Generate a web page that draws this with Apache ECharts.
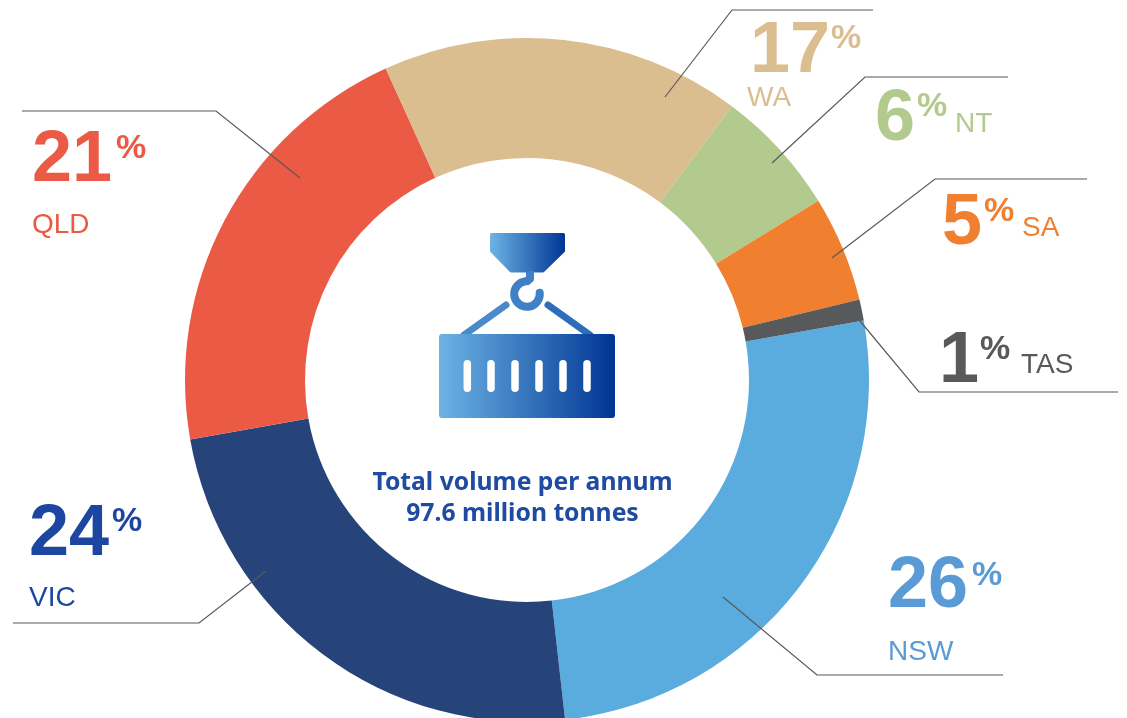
<!DOCTYPE html>
<html>
<head>
<meta charset="utf-8">
<title>Total volume per annum by state</title>
<script src="https://cdn.jsdelivr.net/npm/echarts@6/dist/echarts.min.js"></script>
<style>
  html, body { margin: 0; padding: 0; background: #fff; }
  #chart { width: 1127px; height: 718px; }
</style>
</head>
<body>
<div id="chart"></div>
<script>
// State shares of annual volume, clockwise from the TAS/NSW boundary
const regions = ['NSW', 'VIC', 'QLD', 'WA', 'NT', 'SA', 'TAS'];
const shares = [26, 24, 21, 17, 6, 5, 1];
const sliceColors = ['#5AACDF', '#27447A', '#EA5A44', '#DBBE90', '#B2CA8E', '#F08030', '#58595B'];
const labelColors = ['#5B9BD5', '#1D46A0', '#EA5A44', '#DBBE90', '#B2CA8E', '#F08030', '#58595B'];
const centerLines = ['Total volume per annum', '97.6 million tonnes'];

// Callout placement per state: digits, percent sign, name and leader line
const callouts = {
  NSW: { num: [888, 587], pct: [972, 576], name: [888, 652], line: [[723, 597], [817, 675], [1003, 675]] },
  VIC: { num: [29, 535], pct: [112, 522], name: [29, 598], line: [[266, 571], [199, 623], [13, 623]] },
  QLD: { num: [32, 161], pct: [116, 149], name: [32, 225], line: [[300, 178], [216, 111], [22, 111]] },
  WA: { num: [750, 52], pct: [831, 39], name: [747, 98], line: [[665, 97], [732, 10], [873, 10]] },
  NT: { num: [875, 120], pct: [917, 107], name: [955, 124], line: [[772, 163], [865, 77], [1008, 77]] },
  SA: { num: [942, 224], pct: [984, 212], name: [1022, 228], line: [[832, 258], [935, 179], [1087, 179]] },
  TAS: { num: [939, 362], pct: [980, 350], name: [1021, 365], line: [[860, 321], [919, 392], [1118, 392]] }
};

const FONT = '"Liberation Sans", Arial, sans-serif';
const graphics = [];

function addText(text, pos, font, fill, align) {
  graphics.push({
    type: 'text', x: pos[0], y: pos[1], silent: true, z: 10,
    style: { text, font, fill, align: align || 'left', verticalAlign: 'middle' }
  });
}

regions.forEach((region, i) => {
  const c = callouts[region];
  graphics.push({
    type: 'polyline', silent: true, z: 10,
    shape: { points: c.line },
    style: { stroke: '#58595B', lineWidth: 1.2, fill: null }
  });
  addText(String(shares[i]), c.num, 'bold 72px ' + FONT, labelColors[i]);
  addText('%', c.pct, 'bold 34px ' + FONT, labelColors[i]);
  addText(region, c.name, '28px ' + FONT, labelColors[i]);
});

// Crane hook and container pictogram in the middle of the ring
const iconStops = [{ offset: 0, color: '#6DB4E5' }, { offset: 1, color: '#003594' }];
const localFill = { type: 'linear', x: 0, y: 0, x2: 1, y2: 0, colorStops: iconStops };

graphics.push(
  { type: 'line', silent: true, z: 10, shape: { x1: 506, y1: 305, x2: 464, y2: 335 },
    style: { stroke: '#4A8ACB', lineWidth: 7, lineCap: 'round' } },
  { type: 'line', silent: true, z: 10, shape: { x1: 548, y1: 305, x2: 590, y2: 335 },
    style: { stroke: '#2F6CB9', lineWidth: 7, lineCap: 'round' } },
  { type: 'rect', silent: true, z: 11, shape: { x: 439, y: 334, width: 176, height: 84, r: 3 },
    style: { fill: localFill } },
  { type: 'polygon', silent: true, z: 10,
    shape: { points: [[491.5, 234.5], [563.5, 234.5], [563.5, 251], [543, 271], [511, 271], [491.5, 251]] },
    style: { fill: localFill, stroke: localFill, lineWidth: 3, lineJoin: 'round' } },
  { type: 'arc', silent: true, z: 10,
    shape: { cx: 527, cy: 294, r: 12.8, startAngle: -0.1, endAngle: -Math.PI / 2, clockwise: true },
    style: { stroke: '#3F80C6', lineWidth: 8, lineCap: 'round', fill: null } },
  { type: 'polyline', silent: true, z: 10,
    shape: { points: [[527, 281], [530, 279], [530, 271]] },
    style: { stroke: '#3F80C6', lineWidth: 8, fill: null, lineJoin: 'round' } }
);
[467.3, 491, 515, 539, 563, 587].forEach(cx => {
  graphics.push({
    type: 'rect', silent: true, z: 12,
    shape: { x: cx - 3.75, y: 360, width: 7.5, height: 32, r: 3.75 },
    style: { fill: '#fff' }
  });
});

addText(centerLines[0], [522.5, 483], 'bold 24.7px "Noto Sans", sans-serif', '#1F4BA0', 'center');
addText(centerLines[1], [522.5, 514], 'bold 24.7px "Noto Sans", sans-serif', '#1F4BA0', 'center');

const chart = echarts.init(document.getElementById('chart'), null, { renderer: 'canvas' });
chart.setOption({
  backgroundColor: '#fff',
  animation: false,
  series: [{
    type: 'pie',
    silent: true,
    center: [527, 380],
    radius: [222, 342],
    startAngle: 10,
    clockwise: true,
    label: { show: false },
    labelLine: { show: false },
    data: regions.map((name, i) => ({
      name, value: shares[i], itemStyle: { color: sliceColors[i] }
    }))
  }],
  graphic: { elements: graphics }
});
</script>
</body>
</html>
